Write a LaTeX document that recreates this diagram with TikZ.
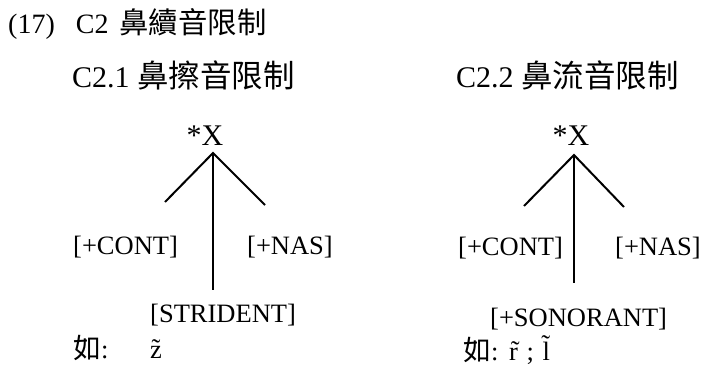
\documentclass[tikz,border=0pt]{standalone}
\usepackage{fontspec}
\setmainfont{Liberation Serif}
\newfontfamily\cjk[Scale=1.05]{Noto Sans CJK TC}
\usetikzlibrary{positioning}

\tikzset{
  txt/.style={inner sep=0pt, anchor=base west, font=\fontsize{26.5}{30}\selectfont},
  head/.style={txt, font=\fontsize{30}{32}\selectfont},
  root/.style={inner sep=0pt, anchor=base, font=\fontsize{30}{32}\selectfont},
  branch/.style={line width=2pt}
}

\begin{document}
\begin{tikzpicture}[x=1pt, y=-1pt]
    \useasboundingbox (0, 0) rectangle (702, 372);
    \node[txt, font=\fontsize{28}{30}\selectfont] (title) at (8, 33) {(17)\hspace{21pt}C2 \hspace{4pt}{\cjk 鼻續音限制}};
    % left: C2.1
    \node[head] (headl) at (72, 87) {C2.1 {\cjk 鼻擦音限制}};
    \node[root] (xl) at (205, 145) {*X};
    \coordinate (tl) at (213, 153);
    \coordinate (al) at (165, 202);
    \coordinate (bl) at (265, 205);
    \coordinate (cl) at (213, 290);
    \draw[branch] (al) -- (tl) -- (bl);
    \draw[branch] (tl) -- (cl);
    \node[txt] (contl) at (73, 254) {[+CONT]};
    \node[txt] (nasl) at (247, 254) {[+NAS]};
    \node[txt] (strid) at (150, 322) {[STRIDENT]};
    \node[txt] (egl) at (73, 358) {{\cjk 如}:};
    \node[txt] (zl) at (150, 358) {z̃};
    % right: C2.2
    \node[head] (headr) at (456, 87) {C2.2 {\cjk 鼻流音限制}};
    \node[root] (xr) at (571, 145) {*X};
    \coordinate (tr) at (574, 155);
    \coordinate (ar) at (524, 206);
    \coordinate (br) at (624, 207);
    \coordinate (cr) at (574, 283);
    \draw[branch] (ar) -- (tr) -- (br);
    \draw[branch] (tr) -- (cr);
    \node[txt] (contr) at (458, 255) {[+CONT]};
    \node[txt] (nasr) at (615, 255) {[+NAS]};
    \node[txt] (sonor) at (490, 326) {[+SONORANT]};
    \node[txt] (egr) at (463, 360) {{\cjk 如}: \hspace{2pt}r̃ \hspace{2pt}; \hspace{2pt}l̃};
\end{tikzpicture}
\end{document}
